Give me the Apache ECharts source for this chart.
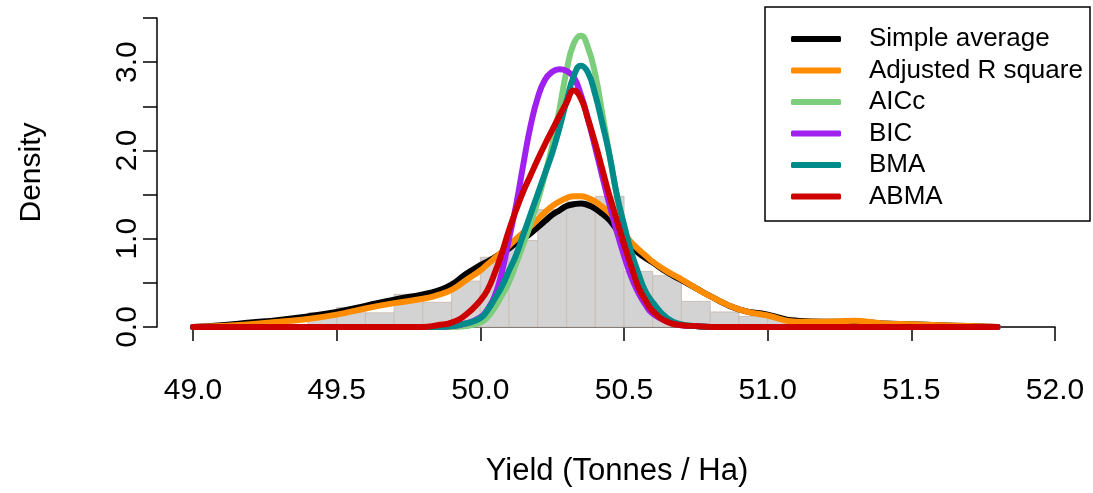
<!DOCTYPE html>
<html>
<head>
<meta charset="utf-8">
<script src="https://cdn.jsdelivr.net/npm/echarts@6/dist/echarts.min.js"></script>
<style>
html,body{margin:0;padding:0;background:#fff;}
#chart{width:1093px;height:493px;}
</style>
</head>
<body>
<div id="chart"></div>
<script>
// ---- data ----
const xTicks = [49.0, 49.5, 50.0, 50.5, 51.0, 51.5, 52.0];
const yTicks = [0.0, 1.0, 2.0, 3.0];

const histBinLeft  = [49.4,49.5,49.6,49.7,49.8,49.9,50.0,50.1,50.2,50.3,50.4,50.5,50.6,50.7,50.8,50.9,51.0];
const histBinRight = [49.5,49.6,49.7,49.8,49.9,50.0,50.1,50.2,50.3,50.4,50.5,50.6,50.7,50.8,50.9,51.0,51.1];
const histDensity  = [0.16,0.22,0.16,0.37,0.28,0.52,0.79,0.98,1.33,1.42,1.48,0.63,0.58,0.29,0.17,0.12,0.11];

const xGrid = [49.0,49.1,49.2,49.3,49.4,49.5,49.6,49.7,49.8,49.85,49.9,49.95,50.0,50.025,50.05,50.075,50.1,50.125,50.15,50.175,50.2,50.225,50.25,50.275,50.3,50.325,50.35,50.375,50.4,50.425,50.45,50.475,50.5,50.525,50.55,50.575,50.6,50.65,50.7,50.75,50.8,50.9,51.0,51.1,51.2,51.3,51.4,51.5,51.6,51.7,51.8];

const simpleAverage = [0.00,0.02,0.05,0.08,0.12,0.17,0.24,0.31,0.37,0.41,0.48,0.60,0.70,0.74,0.79,0.84,0.89,0.95,1.00,1.06,1.13,1.20,1.27,1.32,1.37,1.39,1.40,1.38,1.34,1.28,1.21,1.10,1.00,0.91,0.84,0.78,0.73,0.62,0.53,0.44,0.35,0.20,0.14,0.07,0.06,0.06,0.04,0.03,0.02,0.01,0.00];
const adjustedR2 = [0.00,0.01,0.03,0.06,0.09,0.14,0.21,0.27,0.32,0.36,0.42,0.53,0.64,0.71,0.78,0.85,0.92,1.00,1.07,1.14,1.22,1.30,1.37,1.42,1.46,1.48,1.48,1.46,1.42,1.36,1.29,1.18,1.06,0.96,0.88,0.81,0.74,0.63,0.54,0.44,0.35,0.20,0.13,0.06,0.06,0.07,0.04,0.03,0.02,0.01,0.00];
const aicc = [0,0,0,0,0,0,0,0,0,0,0.00,0.01,0.05,0.11,0.22,0.36,0.51,0.72,0.94,1.17,1.43,1.73,2.05,2.46,2.90,3.21,3.30,3.16,2.86,2.41,1.94,1.49,1.10,0.80,0.56,0.38,0.25,0.08,0.03,0.01,0,0,0,0,0,0,0,0,0,0,0];
const bic = [0,0,0,0,0,0,0,0,0,0,0.01,0.04,0.11,0.20,0.35,0.62,1.00,1.39,1.85,2.28,2.60,2.80,2.89,2.92,2.90,2.83,2.63,2.35,2.03,1.70,1.38,1.08,0.81,0.57,0.39,0.25,0.15,0.06,0.02,0.01,0,0,0,0,0,0,0,0,0,0,0];
const bma = [0,0,0,0,0,0,0,0,0,0,0.01,0.04,0.10,0.19,0.32,0.46,0.64,0.82,1.05,1.28,1.51,1.74,1.97,2.25,2.56,2.84,2.96,2.88,2.63,2.30,1.94,1.50,1.16,0.85,0.61,0.40,0.28,0.10,0.03,0.01,0,0,0,0,0,0,0,0,0,0,0];
const abma = [0,0,0,0,0,0,0,0,0,0.02,0.05,0.14,0.30,0.42,0.61,0.84,1.10,1.33,1.54,1.72,1.90,2.07,2.23,2.39,2.54,2.68,2.59,2.35,2.08,1.78,1.48,1.21,0.94,0.69,0.45,0.30,0.18,0.06,0.02,0.01,0,0,0,0,0,0,0,0,0,0,0];

const seriesNames  = ['Simple average','Adjusted R square','AICc','BIC','BMA','ABMA'];
const seriesValues = [simpleAverage, adjustedR2, aicc, bic, bma, abma];
const seriesColors = ['#000000','#ff8c00','#7ccd7c','#a020f0','#008b8b','#cd0000'];

// ---- chart ----
const chart = echarts.init(document.getElementById('chart'), null, {renderer:'canvas'});
const FONT = 'Liberation Sans, Arial, sans-serif';

const histData = histBinLeft.map((l,i)=>[l, histBinRight[i], histDensity[i]]);

const lineSeries = seriesNames.map((name, k) => ({
  type: 'line',
  name: name,
  data: xGrid.map((x,i)=>[x, seriesValues[k][i]]),
  smooth: 0.5,
  symbol: 'none',
  lineStyle: {color: seriesColors[k], width: 6, cap: 'round', join: 'round'},
  itemStyle: {color: seriesColors[k]},
  z: 3 + k
}));

chart.setOption({
  animation: false,
  backgroundColor: '#ffffff',
  textStyle: {fontFamily: FONT},
  grid: {left: 193, right: 38, top: 18, bottom: 166, containLabel: false},
  xAxis: {
    type: 'value', min: 49, max: 52, interval: 0.5,
    offset: 13,
    axisLine: {show: true, lineStyle: {color: '#000', width: 1.5}},
    axisTick: {show: true, length: 14, lineStyle: {color: '#000', width: 1.5}},
    axisLabel: {fontSize: 30, color: '#000', margin: 36, fontFamily: FONT,
      formatter: v => (xTicks.some(t => Math.abs(t - v) < 1e-9) ? v.toFixed(1) : '')},
    splitLine: {show: false},
    name: 'Yield (Tonnes / Ha)', nameLocation: 'middle', nameGap: 116,
    nameTextStyle: {fontSize: 31, color: '#000', fontFamily: FONT, padding: [0, 14, 0, 0]}
  },
  yAxis: {
    type: 'value', min: 0, max: 3.5, interval: 0.5,
    offset: 36,
    axisLine: {show: true, lineStyle: {color: '#000', width: 1.5}},
    axisTick: {show: true, length: 14, lineStyle: {color: '#000', width: 1.5}},
    axisLabel: {fontSize: 30, color: '#000', margin: 14, rotate: 90, fontFamily: FONT,
      formatter: v => (yTicks.some(t => Math.abs(t - v) < 1e-9) ? v.toFixed(1) : '')},
    splitLine: {show: false},
    name: 'Density', nameLocation: 'middle', nameGap: 110, nameRotate: 90,
    nameTextStyle: {fontSize: 30, color: '#000', fontFamily: FONT}
  },
  legend: {
    orient: 'vertical', left: 786, top: 21,
    itemWidth: 50, itemHeight: 6, itemGap: 5.5,
    icon: 'roundRect',
    data: seriesNames,
    textStyle: {fontSize: 26, color: '#000', fontFamily: FONT, lineHeight: 25, padding: [0,0,0,23]}
  },
  graphic: [{
    type: 'rect', z: 100,
    shape: {x: 765, y: 7, width: 325, height: 214},
    style: {fill: 'none', stroke: '#000', lineWidth: 1.5}
  }],
  series: [{
    type: 'custom',
    name: 'hist',
    data: histData,
    encode: {x: [0,1], y: 2},
    z: 1,
    renderItem: function(params, api){
      const p0 = api.coord([api.value(0), api.value(2)]);
      const p1 = api.coord([api.value(1), 0]);
      return {type: 'rect',
        shape: {x: p0[0], y: p0[1], width: p1[0]-p0[0], height: p1[1]-p0[1]},
        style: {fill: '#d3d3d3', stroke: '#cbbfb7', lineWidth: 1}};
    }
  }].concat(lineSeries)
});
</script>
</body>
</html>
